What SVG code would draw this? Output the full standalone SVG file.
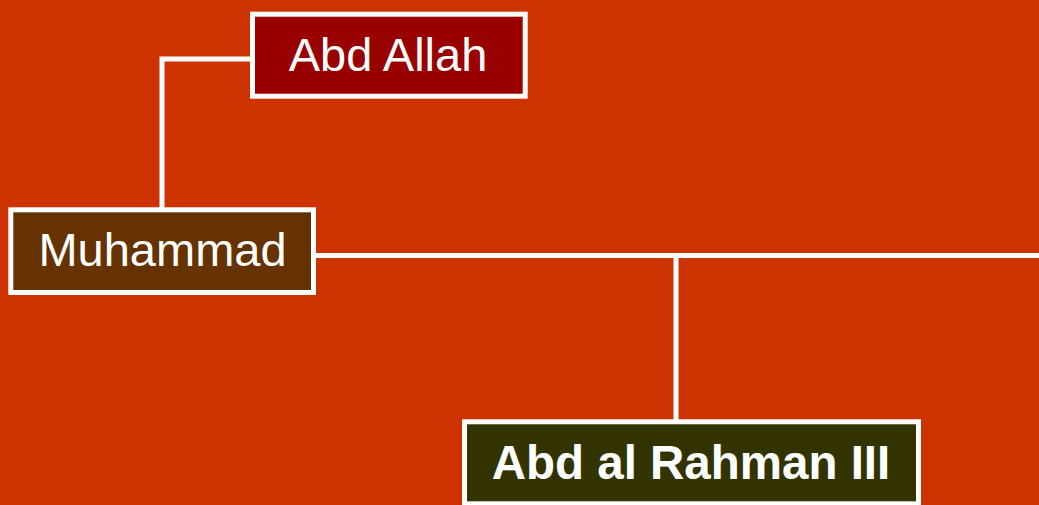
<svg xmlns="http://www.w3.org/2000/svg" width="1039" height="505" viewBox="0 0 1039 505">
<style>
.box{stroke:#ffffff;stroke-width:5}
.lbl{font-family:"Liberation Sans",Arial,sans-serif;fill:#ffffff;text-anchor:middle}
.conn{stroke:#ffffff;stroke-width:5;fill:none}
</style>
<rect x="0" y="0" width="1039" height="505" fill="#cc3300"/>
<g id="connectors">
<polyline class="conn" points="252,59 162,59 162,209"/>
<line class="conn" x1="313" y1="255.5" x2="1039" y2="255.5"/>
<line class="conn" x1="676" y1="255.5" x2="676" y2="422"/>
</g>
<g id="abd-allah">
<rect class="box" x="252.5" y="14.2" width="272.7" height="82" fill="#990000"/>
<text class="lbl" x="388" y="71" font-size="47">Abd Allah</text>
</g>
<g id="muhammad">
<rect class="box" x="10.8" y="209.8" width="302.7" height="82.7" fill="#663300"/>
<text class="lbl" x="162.5" y="265.7" font-size="47">Muhammad</text>
</g>
<g id="abd-al-rahman-iii">
<rect class="box" x="464.5" y="421.8" width="454" height="82" fill="#333300"/>
<text class="lbl" x="691" y="479.3" font-size="47.5" font-weight="bold">Abd al Rahman III</text>
</g>
</svg>
